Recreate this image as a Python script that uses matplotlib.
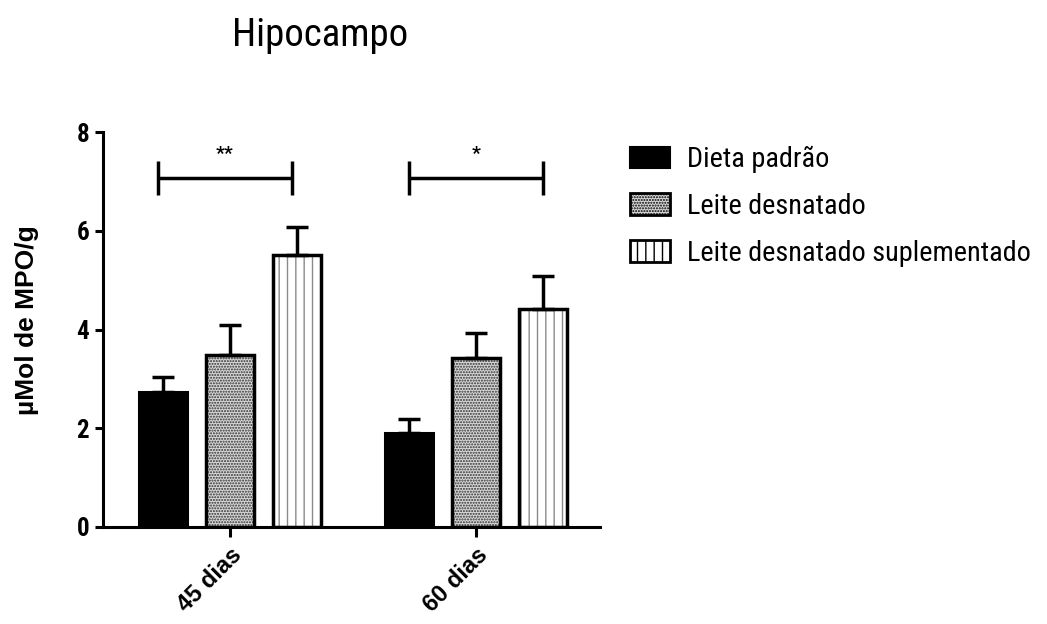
import matplotlib
matplotlib.use("Agg")
import matplotlib.pyplot as plt
from matplotlib.patches import Rectangle
from matplotlib import font_manager
import numpy as np

groups = ["45 dias", "60 dias"]
series = ["Dieta padrão", "Leite desnatado", "Leite desnatado suplementado"]
means = {
    "Dieta padrão": [2.73, 1.90],
    "Leite desnatado": [3.48, 3.42],
    "Leite desnatado suplementado": [5.51, 4.41],
}
errors = {
    "Dieta padrão": [0.31, 0.29],
    "Leite desnatado": [0.61, 0.51],
    "Leite desnatado suplementado": [0.56, 0.67],
}
sig_labels = ["**", "*"]
sig_height = 7.07
yticks = [0, 2, 4, 6, 8]

names = {f.name for f in font_manager.fontManager.ttflist}
narrow = "Liberation Sans Narrow" if "Liberation Sans Narrow" in names else "Roboto Condensed" if "Roboto Condensed" in names else "DejaVu Sans"
plt.rcParams['font.family'] = [narrow, "DejaVu Sans"]

fig = plt.figure(figsize=(10.47, 6.24), dpi=100)
ax = fig.add_axes([103/1047, 97/624, 497/1047, 395/624])

x = np.arange(len(groups))
width = 0.195
step = 0.272
offsets = [-step, 0, step]

handles = []
for i, s in enumerate(series):
    pos = x + offsets[i]
    if i == 0:
        ax.bar(pos, means[s], width, color="black", edgecolor="black", linewidth=2.2, zorder=2)
        h = Rectangle((0, 0), 1, 1, facecolor="black", edgecolor="black", linewidth=1.5)
    elif i == 1:
        ax.bar(pos, means[s], width, color="#d8d8d8", edgecolor="#303030", hatch="......", linewidth=0, zorder=2)
        ax.bar(pos, means[s], width, fill=False, edgecolor="black", linewidth=2.5, zorder=3)
        h = Rectangle((0, 0), 1, 1, facecolor="#d8d8d8", edgecolor="black", hatch="......", linewidth=2)
    else:
        ax.bar(pos, means[s], width, color="white", edgecolor="#8a8a8a", hatch="||", linewidth=0, zorder=2)
        ax.bar(pos, means[s], width, fill=False, edgecolor="black", linewidth=2.5, zorder=3)
        h = Rectangle((0, 0), 1, 1, facecolor="white", edgecolor="black", hatch="||", linewidth=2)
    handles.append(h)
    ax.errorbar(pos, means[s], yerr=[np.zeros(len(groups)), errors[s]], fmt="none",
                ecolor="black", elinewidth=2.5, capsize=8, capthick=2.5, zorder=4)

# significance brackets
for gi, lab in enumerate(sig_labels):
    x1 = x[gi] + offsets[0] - (0.02 if gi == 0 else 0)
    x2 = x[gi] + offsets[2] - (0.02 if gi == 0 else 0)
    ax.plot([x1, x2], [sig_height, sig_height], color="black", lw=2.5, solid_capstyle="butt")
    for xx in (x1, x2):
        ax.plot([xx, xx], [sig_height - 0.35, sig_height + 0.35], color="black", lw=2.5, solid_capstyle="butt")
    ax.text((x1 + x2) / 2, sig_height + 0.3, lab, ha="center", va="bottom", fontsize=14, fontweight="bold")

ax.set_xlim(-0.516, 1.504)
ax.set_ylim(0, 8)
ax.set_yticks(yticks)
ax.set_yticklabels([str(t) for t in yticks], fontsize=18, fontweight="bold")
ax.set_xticks(x)
ax.set_xticklabels(groups, rotation=45, ha="right", va="top", rotation_mode="anchor",
                   fontsize=17, fontweight="bold", family=["Liberation Sans", "DejaVu Sans"])
ax.tick_params(axis="y", width=2.2, length=6, pad=4)
ax.tick_params(axis="x", width=2.2, length=7, pad=5)
for sp in ["top", "right"]:
    ax.spines[sp].set_visible(False)
for sp in ["left", "bottom"]:
    ax.spines[sp].set_linewidth(2.2)
ax.set_ylabel("µMol de MPO/g", fontsize=19, fontweight="bold", family=["Liberation Sans", "DejaVu Sans"])
ax.yaxis.set_label_coords(-0.128, 0.524)

fig.text(320/1047, 1 - 35/624, "Hipocampo", ha="center", va="center", fontsize=28)

leg = fig.legend(handles, series, loc="upper left", bbox_to_anchor=(630/1047, 1 - 146/624),
                 frameon=False, fontsize=20.3, handlelength=1.42, handleheight=0.8,
                 labelspacing=0.7, handletextpad=0.6, borderaxespad=0, borderpad=0)

fig.savefig("out.png", dpi=100)
